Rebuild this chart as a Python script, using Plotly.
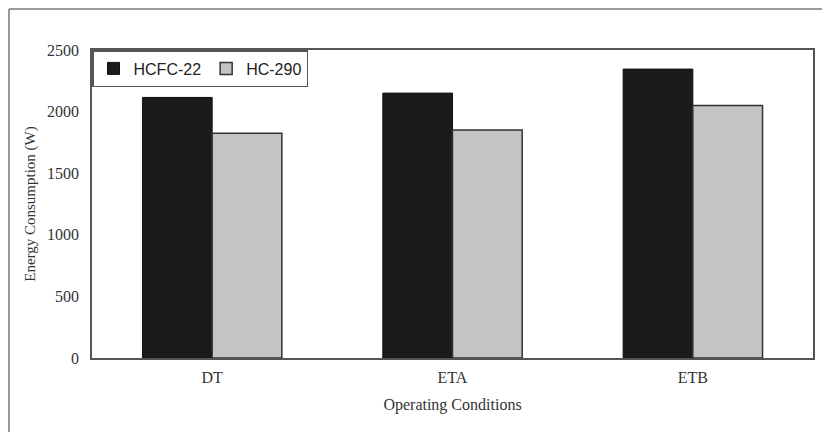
import plotly.graph_objects as go

categories = ["DT", "ETA", "ETB"]
hcfc22 = [2115, 2150, 2345]
hc290 = [1825, 1850, 2050]
y_ticks = [0, 500, 1000, 1500, 2000, 2500]

fig = go.Figure()
fig.add_trace(go.Bar(x=categories, y=hcfc22, name="HCFC-22",
                     marker=dict(color="#1b1b1b", line=dict(color="#111111", width=1))))
fig.add_trace(go.Bar(x=categories, y=hc290, name="HC-290",
                     marker=dict(color="#c4c4c4", line=dict(color="#333333", width=1.5))))

# page is offset by 8px (body margin), so the figure is 8px smaller
OFF = 8
W, H = 830 - OFF, 432 - OFF
L, R, T, B = 92 - OFF, 830 - 813, 50 - OFF, 432 - 358
pw, ph = W - L - R, H - T - B

def px(x):  # page x -> paper
    return (x - OFF - L) / pw

def py(y):  # page y -> paper
    return (H - B - (y - OFF)) / ph

fig.update_layout(
    width=W, height=H,
    margin=dict(l=L, r=R, t=T, b=B),
    paper_bgcolor="white", plot_bgcolor="white",
    barmode="group", bargap=0.42, bargroupgap=0,
    font=dict(family="Liberation Serif, Times New Roman, serif", size=14, color="#333333"),
    xaxis=dict(showline=True, linecolor="#555555", linewidth=1.5, mirror=True,
               ticks="", showgrid=False, ticklabelstandoff=4,
               title=dict(text="Operating Conditions", standoff=14,
                          font=dict(size=16, color="#333333")),
               tickfont=dict(size=16, color="#333333")),
    yaxis=dict(range=[0, 2500], tickvals=y_ticks, showline=True, linecolor="#555555",
               linewidth=1.5, mirror=True, ticks="", showgrid=False, zeroline=False,
               ticklabelstandoff=8,
               title=dict(text="Energy Consumption (W)", standoff=8,
                          font=dict(size=15, color="#333333")),
               tickfont=dict(size=16, color="#333333")),
    legend=dict(orientation="h", x=0, y=1, xanchor="left", yanchor="top",
                bordercolor="#555555", borderwidth=1.5, bgcolor="white",
                font=dict(family="Liberation Sans, Arial, sans-serif", size=16, color="#222222"),
                itemwidth=30, tracegroupgap=0),
    showlegend=True,
    shapes=[
        dict(type="line", xref="paper", yref="paper", x0=px(OFF + 1), x1=px(840), y0=py(OFF + 1), y1=py(OFF + 1),
             line=dict(color="#999999", width=2)),
        dict(type="line", xref="paper", yref="paper", x0=px(OFF + 1), x1=px(OFF + 1), y0=py(OFF + 1), y1=py(440),
             line=dict(color="#999999", width=2)),
    ],
)

fig.write_html("out.html")
